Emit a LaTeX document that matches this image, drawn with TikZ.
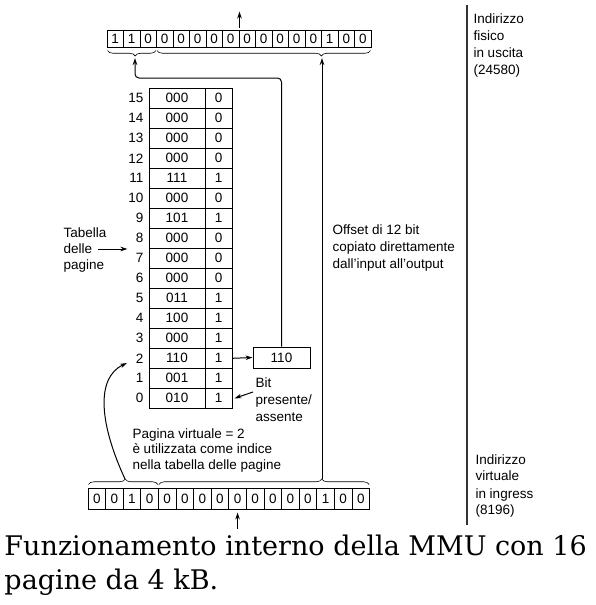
\documentclass[tikz,border=0pt]{standalone}
\usepackage{fontspec}
\setmainfont{Liberation Sans}
\newfontfamily\captionfont{DejaVu Serif}
\usetikzlibrary{arrows.meta,decorations.pathreplacing}

\tikzset{
  physbit/.style={draw,minimum width=16.5pt,minimum height=17pt},
  virtbit/.style={draw,minimum width=17.6pt,minimum height=21pt},
  framecell/.style={draw,minimum width=56pt,minimum height=20pt},
  presentcell/.style={draw,minimum width=26.7pt,minimum height=20pt},
  bitbrace/.style={decorate,decoration={brace,amplitude=5.5pt,aspect=#1},line width=0.6pt},
  note/.style={anchor=west,align=left}
}

\begin{document}
\begin{tikzpicture}[x=1pt,y=-1pt,line width=1pt,inner sep=0pt,
    font=\fontsize{13.5}{17}\selectfont,
    >={Stealth[length=7pt,width=4.5pt]}]
  \useasboundingbox (0,0) rectangle (596,605);

  % physical address (output)
  \foreach \b [count=\i] in {1,1,0,0,0,0,0,0,0,0,0,0,0,1,0,0}
    \node[physbit] (p\i) at (98.75+16.5*\i,38.5) {\b};

  % virtual address (input)
  \foreach \b [count=\i] in {0,0,1,0,0,0,0,0,0,0,0,0,0,1,0,0}
    \node[virtbit] (v\i) at (79.2+17.6*\i,498.5) {\b};

  % page table
  \foreach \fr/\pr [count=\r from 0] in {010/1,001/1,110/1,000/1,100/1,011/1,000/0,000/0,
      000/0,101/1,000/0,111/1,000/0,000/0,000/0,000/0}{
    \node[framecell] (f\r) at (177,398.3-20*\r) {\fr};
    \node[presentcell] (b\r) at (218.65,398.3-20*\r) {\pr};
    \node[anchor=east] (n\r) at (144,398.3-20*\r) {\r};
  }

  \node[framecell,minimum width=57pt,minimum height=21pt] (frame) at (281.5,357.5) {110};

  % braces
  \draw[bitbrace=0.43] ([xshift=-1pt,yshift=-3pt]p3.south east) -- ([xshift=1pt,yshift=-3pt]p1.south west);
  \draw[bitbrace=0.23] ([xshift=-1pt,yshift=-3pt]p16.south east) -- ([xshift=1pt,yshift=-3pt]p4.south west);
  \draw[bitbrace=0.53] ([xshift=1pt,yshift=3pt]v1.north west) -- ([xshift=-1pt,yshift=3pt]v4.north east);
  \draw[bitbrace=0.775] ([xshift=1pt,yshift=3pt]v5.north west) -- ([xshift=-1pt,yshift=3pt]v16.north east);

  \coordinate (pgin) at (125,479);
  \coordinate (offin) at (322,479);
  \coordinate (offout) at (323,58);
  \coordinate (frout) at (135,58);
  \coordinate (pgtip) at (127,363);
  \coordinate (tabtail) at (98,249);
  \coordinate (bittail) at (253,392);

  % connectors
  \draw[->] ([yshift=2pt]p8.north east) -- ++(0,-16);
  \draw[->] ([yshift=-19pt]v9.south) -- ([yshift=-3pt]v9.south);
  \draw[->] (b2.east) -- (frame.west);
  \draw[->,rounded corners=4pt] (frame.north) |- ([yshift=-20pt]frout) -- (frout);
  \draw[->] (offin) -- (offin |- offout);
  \draw[->] (pgin) .. controls (100,425) and (95,378) .. (pgtip);
  \draw[->] (tabtail) -- ([xshift=-8pt]n8.west |- tabtail);
  \draw[->] (bittail) -- ([xshift=2pt]b0.east);

  \draw[line width=1.4pt,black!80] (467,5) -- (467,525);

  % labels
  \node[note] (physlab) at (473,45.5) {Indirizzo\\fisico\\in uscita\\(24580)};
  \node[note] (virtlab) at (475,486) {Indirizzo\\virtuale\\in ingress\\(8196)};
  \node[note] (offlab) at (332,248) {Offset di 12 bit\\copiato direttamente\\dall’input all’output};
  \node[note,font=\fontsize{13.5}{16}\selectfont] (tablab) at (63,250) {Tabella\\delle\\pagine};
  \node[note] (bitlab) at (255,400) {Bit\\presente/\\assente};
  \node[note,font=\fontsize{13.5}{15.5}\selectfont] (pglab) at (132,450.5) {Pagina virtuale = 2\\è utilizzata come indice\\nella tabella delle pagine};

  \node[anchor=north west,align=left,font=\captionfont\fontsize{27}{34}\selectfont] (caption) at (4,534)
    {Funzionamento interno della MMU con 16\\pagine da 4 kB.};
\end{tikzpicture}
\end{document}
